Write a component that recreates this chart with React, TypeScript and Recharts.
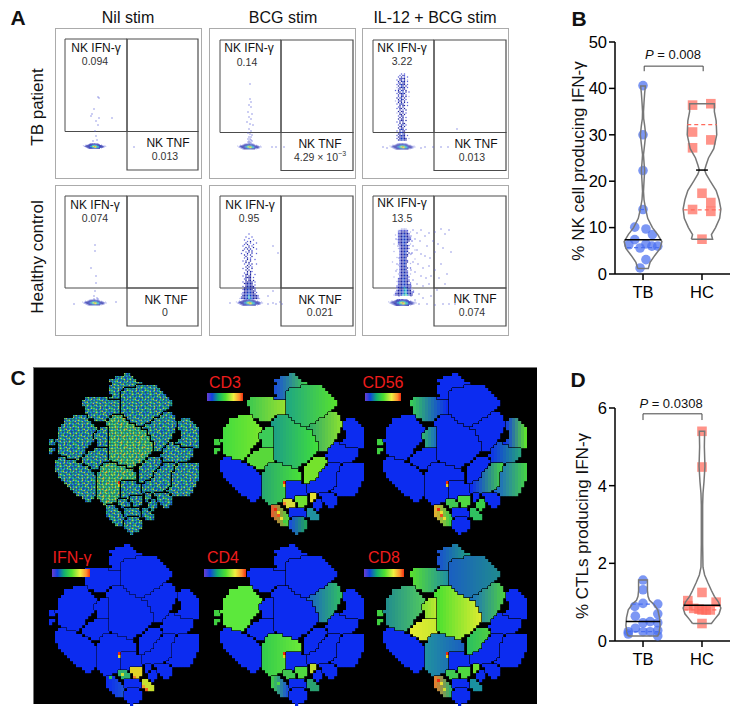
import React from 'react';
import { ScatterChart, Scatter, XAxis, YAxis, ReferenceArea } from 'recharts';

const FONT = '"Liberation Sans", Arial, sans-serif';

// ---------- panel A: flow cytometry ----------
const LEVEL_COLORS = ['', '#b4b8ec', '#5a60d8', '#1c22a0', '#1238c4', '#12a0c0', '#30d070', '#e8e020', '#ee2a10'];

const blobRows = [
  '        12232332221         ',
  '    1 12333344443332 1      ',
  ' 1 123333445566554433321 1  ',
  '  1233334556778765543333211 ',
  '    123334455677655443321   ',
  '      12333344443333 1      ',
];

const il12HcColumn = [
  '       1111       ',
  '     1222222      ',
  '     2233332 1    ',
  '     23334332     ',
  '   1 23344332     ',
  '     233443321    ',
  '     233444332    ',
  '    1233444332    ',
  '     23344433 2   ',
  '     2334433      ',
  '  1  233443  1    ',
  '      2334432     ',
  '      233433      ',
  '     12334332     ',
  '      233432    1 ',
  '  1   233443      ',
  '      23344 3 2   ',
  '      233433 1    ',
  '      233433      ',
  '    1 23343       ',
  '      23343     1 ',
  '      233432      ',
  ' 1    233433      ',
  '      23343  1    ',
  '     123343       ',
  '      23343       ',
  '      233433 2    ',
  '    1 23343       ',
  '      233432      ',
  '      234332      ',
  '     1233432 1    ',
  '      233443      ',
  '  1   2334332     ',
  '     2334432      ',
  '     23344332     ',
  '    123344332     ',
  '     2334433 2    ',
  '     233444332    ',
  '    1233444332    ',
  '    2334454322    ',
  '    12334554321   ',
  '    2334455433 1  ',
  '   1233445543322  ',
  '   233344554332   ',
  '  1233345565433   ',
];

const il12TbColumn = [
  '     2 2    ',
  '    2 32    ',
  '   2 3 2 2  ',
  '    3233    ',
  '  2 33 3 1  ',
  '   3 343 2  ',
  '   23 33    ',
  '  2 3433 2  ',
  '   3 43 3   ',
  '  1 3343 2  ',
  '   23 33    ',
  ' 2 3 43 3   ',
  '   33 4 3 2 ',
  '  2 3343    ',
  '   3 33 2   ',
  '   2 43 3 1 ',
  '  3 33 3    ',
  '   3 43 2   ',
  ' 1 233 3    ',
  '   3 3 3 2  ',
  '  2 343     ',
  '    3 33 2  ',
  '   23 3     ',
  '  2 33 3    ',
  '    3 2 3   ',
  '   3 33     ',
  '  1 3 3 2   ',
  '    33 3    ',
  '   2 33     ',
  '    3 3 2   ',
  '   3 33     ',
  '    233 3   ',
  '  2 3 3     ',
  '    3 33    ',
  '   2 34 2   ',
  '    33 3    ',
  '   3 33     ',
  '    343 2   ',
  '  2 3 33    ',
  '    343     ',
  '   33 43    ',
  '  2 3433 2  ',
  '   33433    ',
  '  2 34433 1 ',
  '   334433   ',
];

const bcgHcColumn = [
  '        2         ',
  '                  ',
  '      2   2       ',
  '        2         ',
  '     2     2      ',
  '       2 3        ',
  '      3  2   2    ',
  '     2 3   2      ',
  '    2   3 2       ',
  '      3 2  3      ',
  '     2 3 3   2    ',
  '    3   3 2       ',
  '      2 3 3       ',
  '   2   3  2  2    ',
  '     3 2 3        ',
  '      3   3       ',
  '     2 3 2        ',
  '       3 2  2     ',
  '    2 3  3        ',
  '      3 3         ',
  '     2  3 3  2    ',
  '       3 2        ',
  '      3 3 2       ',
  '    2  3  3       ',
  '      3 3         ',
  '       3 32       ',
  '     2 3 3        ',
  '      33 3  2     ',
  '    2 3 33        ',
  '      3333 2      ',
  '     23 33        ',
  '      3 33 3      ',
  '    2 33333 2     ',
  '     333433       ',
  '      33433 2     ',
  '    2 334333      ',
  '     33443332     ',
  '    2334433 2     ',
  '     33344333     ',
  '    23344433 2    ',
  '   1233444333     ',
  '    33445443332   ',
  '   233445443332   ',
  '  12334455433321  ',
];

const nilTbEvents = [[42, 68], [43, 69], [38, 80], [36, 85], [43, 89], [56, 89], [35, 87], [40, 92], [42, 96], [39, 102], [40, 107], [41, 111], [37, 112], [78, 118]];
const nilHcEvents = [[39, 59], [39, 65], [35, 82], [40, 90], [40, 97], [39, 105], [38, 110], [41, 112], [38, 113], [42, 113], [18, 118], [60, 116]];
const bcgTbEvents = [[40, 55], [40, 70], [41, 73], [39, 76], [41, 78], [38, 83], [42, 85], [39, 88], [41, 90], [37, 93], [40, 95], [43, 96], [39, 100], [41, 102], [38, 104], [40, 105], [42, 106], [39, 108], [41, 108], [38, 110], [40, 110], [41, 111], [39, 112], [42, 112], [40, 113], [38, 113], [41, 114], [39, 114], [62, 118], [66, 118], [74, 118]];
const il12TbEvents = [[94, 100], [20, 118], [24, 119], [62, 118], [70, 118], [78, 118], [85, 118], [58, 119]];
const bcgHcEvents = [[63, 60], [68, 67], [63, 105], [63, 117], [58, 110], [58, 118], [20, 117], [66, 118], [70, 116], [72, 118]];
const il12HcEvents = [
  [33, 53], [35, 60], [36, 72], [34, 78], [33, 85], [34, 100], [36, 110], [32, 118], [50, 44], [54, 47], [58, 44], [62, 50], [48, 50],
  [52, 53], [57, 55], [66, 47], [72, 46], [78, 43], [82, 48], [86, 44], [70, 55], [75, 58], [64, 60], [50, 60], [54, 64], [58, 68],
  [48, 68], [62, 70], [67, 72], [72, 66], [80, 62], [88, 66], [50, 76], [55, 78], [60, 82], [66, 80], [72, 84], [78, 78], [52, 86],
  [48, 84], [58, 90], [63, 92], [68, 90], [76, 92], [84, 88], [50, 94], [54, 98], [48, 100], [60, 100], [66, 98], [74, 104], [82, 98],
  [50, 106], [56, 108], [48, 110], [60, 112], [68, 110], [52, 114], [46, 116], [56, 118], [64, 118], [72, 119], [80, 118], [86, 118], [92, 118],
];

const panelGates = [
  { frameX: 55, frameY: 28, left: 9, right: 142, split: 71, top: 10, mid: 102.5, bottom: 141 },
  { frameX: 209, frameY: 28, left: 10, right: 143, split: 71, top: 11, mid: 103.5, bottom: 141.5 },
  { frameX: 362, frameY: 28, left: 10, right: 143, split: 71, top: 11, mid: 103.5, bottom: 141.5 },
  { frameX: 55, frameY: 185, left: 9, right: 142, split: 71, top: 10, mid: 102, bottom: 140 },
  { frameX: 209, frameY: 185, left: 10, right: 143, split: 71, top: 10, mid: 102, bottom: 140 },
  { frameX: 362, frameY: 185, left: 10, right: 143, split: 71, top: 10, mid: 102, bottom: 140 },
];

const panelEvents = [nilTbEvents, bcgTbEvents, il12TbEvents, nilHcEvents, bcgHcEvents, il12HcEvents];
const panelColumns: any[] = [
  null,
  null,
  { rows: il12TbColumn, x: 31, y: 45 },
  null,
  { rows: bcgHcColumn, x: 27, y: 48 },
  { rows: il12HcColumn, x: 28, y: 43 },
];
const panelBlobs = [[39, 117.5, 0.9], [40, 118, 0.95], [40, 118, 1], [39, 117, 0.95], [40, 117, 1.05], [40, 117, 1.1]];

const ifnValues = ['0.094', '0.14', '3.22', '0.074', '0.95', '13.5'];
const tnfValues = ['0.013', '', '0.013', '0', '0.021', '0.074'];
const ifnLabelAt = [[96, 48, 95, 61], [249, 48, 247, 62], [402, 48, 402, 61], [95, 205, 95, 218], [250, 205, 249, 218], [402, 203, 402, 218]];
const tnfLabelAt = [[168, 143, 165, 156], [320, 144, 320, 157], [476, 144, 472, 157], [166, 300, 165, 312], [320, 300, 320, 312], [475, 299, 472, 312]];

const columnTitles = ['Nil stim', 'BCG stim', 'IL-12 + BCG stim'];
const rowTitles = ['TB patient', 'Healthy control'];

const parseRows = (rows: string[], x0: number, y0: number, step: number, size: number) => {
  const out: any[] = [];
  rows.forEach((row, r) => {
    row.split('').forEach((ch, c) => {
      if (ch !== ' ') out.push({ x: x0 + c * step, y: y0 + r * step, level: Number(ch), size });
    });
  });
  return out;
};

const FlowCell = (p: any) => {
  const s = p.payload.size;
  return <rect x={p.cx - s / 2} y={p.cy - s / 2} width={s} height={s} fill={LEVEL_COLORS[p.payload.level]} />;
};

const FlowPanel = ({ index }: { index: number }) => {
  const g = panelGates[index];
  const col = panelColumns[index];
  const [bx, by, bs] = panelBlobs[index];
  const events = panelEvents[index].map(([x, y]) => ({ x, y, level: 2, size: 1.1 }));
  const cells = [
    ...events,
    ...(col ? parseRows(col.rows, col.x, col.y, 1.5, 1.25) : []),
    ...parseRows(blobRows, bx - 14 * bs, by - 3 * bs, bs, bs),
  ];
  const stroke = '#4c4c4c';
  return (
    <div style={{ position: 'absolute', left: g.frameX, top: g.frameY, width: 147, height: 151, border: '1px solid #ababab', boxSizing: 'border-box' }}>
      <ScatterChart width={145} height={149} margin={{ top: 0, right: 0, bottom: 0, left: 0 }}>
        <XAxis type="number" dataKey="x" domain={[0, 145]} hide />
        <YAxis type="number" dataKey="y" domain={[0, 149]} reversed hide />
        <Scatter data={cells} shape={FlowCell} isAnimationActive={false} />
        <ReferenceArea x1={g.left} x2={g.split} y1={g.top} y2={g.mid} fill="none" stroke={stroke} strokeWidth={1} ifOverflow="visible" />
        <ReferenceArea x1={g.split} x2={g.right} y1={g.top} y2={g.mid} fill="none" stroke={stroke} strokeWidth={1.2} ifOverflow="visible" />
        <ReferenceArea x1={g.split} x2={g.right} y1={g.mid} y2={g.bottom} fill="none" stroke={stroke} strokeWidth={1.2} ifOverflow="visible" />
      </ScatterChart>
    </div>
  );
};

// ---------- panel C: tSNE maps ----------
const BLUE = '#0c2cf0';
const tsneRows = [
  '',
  'a28-29',
  'a25-30',
  'a23-31',
  'a24-33',
  'a23-31 b32-38',
  'a23-27 b28-39',
  'a23-26 b27-40',
  'a24-26 b27-41',
  'c15-22 a23-26 b27-42',
  'c14-26 b27-43',
  'c14-26 b27-43',
  'c15-26 b27-42',
  'c15-26 b27-41',
  'c15-26 b27-40 h41-43',
  'd11-15 c16-22 e24-27 b28-39 h40-44',
  'd8-15 c18-21 e23-28 b29-37 h38-44 l47-49',
  'd8-16 e22-29 b30-36 h37-45 l46-50',
  'd7-17 e22-31 b32-34 h35-45 l46-51',
  'd6-18 f20-22 e23-33 h34-44 l46-52',
  'd6-18 f19-22 e23-35 h36-44 l47-52',
  'd6-17 f18-22 e23-35 h36-43 l47-52',
  'd6-17 f18-22 e23-36 h37-43 l47-52',
  'x3-4 d5-17 f19-22 e23-36 h37-42 l46-52',
  'x3-4 d6-16 f19-22 e23-37 h38-42 m43-44 l45-52',
  'd6-15 f19-22 e23-37 h38-41 m42-46 l47-52',
  'x3-4 d6-14 g18-22 e23-37 h38-40 m41-50',
  'x3 d6-14 g16-22 e23-36 m41-50',
  'd7-13 g15-22 e23-35 m40-50',
  'k6-8 d9-12 g14-22 e23-34 j36-39 m41-49',
  'k5-11 g14-22 e24-33 j35-40 m41-48',
  'k5-13 g15-20 i21-25 e26-31 j34-39 o41-44 n46-52',
  'k5-15 g17-19 i20-28 e29-30 j33-39 o40-44 n45-52',
  'k5-16 i20-30 j33-38 o39-44 n45-52',
  'k6-17 i19-31 j33-37 o38-43 n44-52',
  'k6-18 i19-31 j33-37 o38-43 n44-52',
  'k7-18 i19-31 j33-36 o37-43 n44-52',
  'k8-18 i19-26 p27-31 j33-34 o35-43 n44-51',
  'k9-18 i19-26 p27-33 o34-43 n44-51',
  'k10-18 i19-26 p27-33 o34-42 n43-50',
  'k11-18 i19-26 p27-33 o34-40 n42-50',
  'k12-18 i19-26 p27-33 v35-36 r38-42 n44-49',
  'k14-17 i19-26 p27-29 u30-33 v35-36 r39-43',
  'k15-16 i20-25 w26-28 u30-33 v35 s37-38 r39-43',
  'i21-23 w26-29 u31-33 s36-38 r40-43',
  'z22-24 w27-29 u31-32 s36-38 r41-42',
  'z22-25 t28-32 y34-35 s37',
  'z22-26 t28-33 y34-36',
  'z22-27 t28-33 y34-37',
  'z23-27 B29-32 y35-37',
  'z24-27 B28-33',
  'z25-27 B28-33',
  'B28-33',
  'B29-32',
  'B30',
];

const cd3Fills: any = {
  a: ['#1a50d8', '#40c850'], b: ['#1fa880', '#56e030'], c: ['#3cc850', '#96e030'], d: ['#40dc40', '#78e62c'], e: ['#1c9c88', '#40e03a'],
  f: '#3ccc58', g: '#58d83a', h: ['#2aa868', '#8ce230'], i: ['#28a870', '#48e038'], j: '#74e22c', u: '#70e030', v: '#e4e030',
  w: '#d8dc38', y: '#2090a0', z: ['#e06030', '#50d040'], B: ['#1a50d8', '#20a060'], x: '#40d040',
};
const cd56Fills: any = {
  c: ['#38cc58', '#0c2cf0'], f: ['#30b070', '#1a70c0'], l: ['#0c2cf0', '#5ce030'], m: ['#0c2cf0', '#24a080'], n: ['#1a60d0', '#44d048'],
  o: ['#0c2cf0', '#44d048'], s: '#38d048', u: '#50d840', w: '#40c850', z: ['#e0b030', '#38cc48'], y: '#30c060', x: '#40d040',
};
const ifnFills: any = { u: '#e0d428', y: '#c8e030', z: ['#0c2cf0', '#1a50d8'], w: '#30b070' };
const cd4Fills: any = {
  d: '#5ce83c', i: ['#34cc4c', '#68e838'], h: ['#1a60c8', '#30c060'], u: '#50d840', v: '#c0dc30',
  w: '#40c850', z: ['#40c850', '#1a50d8'], y: '#2aa070', x: '#40d040',
};
const cd8Fills: any = {
  a: ['#1850d0', '#20a080'], b: ['#1a60c0', '#1f8a90'], c: ['#58e030', '#2090a0'], d: ['#1f8a90', '#50c860'], e: ['#44e030', '#dcec30'],
  f: ['#88e030', '#b8e830'], g: ['#e4ec30', '#c8e830'], h: ['#1a70c0', '#50d040'], i: ['#2090a0', '#1a60c0'], j: ['#2cc060', '#50d040'],
  u: '#50d840', v: '#70e030', w: '#40c850', z: ['#e08030', '#30b070'], y: '#1a90a0', x: '#40d040',
};
const speckleFills: any = { e: 'url(#speckleWarm)', i: 'url(#speckleWarm)', default: 'url(#speckleCool)' };

const commonHotspots = [[26, 37, '#ee2a10'], [26, 38, '#e8d020']];
const cd3Hotspots = [[23, 46, '#ee2a10'], [24, 47, '#f0e030'], [24, 48, '#f05020'], [25, 49, '#f0e030'], [26, 50, '#40d040'], [26, 44, '#f08030'], [30, 44, '#f0e030']];
const cd56Hotspots = [[23, 46, '#ee2a10'], [24, 47, '#f0e030'], [24, 48, '#f05020'], [25, 49, '#f0e030'], [30, 44, '#e0e030']];
const ifnHotspots = [[30, 44, '#ee2a10'], [31, 45, '#f08030'], [34, 48, '#f0a030'], [35, 49, '#ee6020'], [23, 45, '#30c060'], [27, 44, '#d0e030']];
const cd4Hotspots = [[30, 44, '#e0e030'], [24, 47, '#50d840']];
const cd8Hotspots = [[23, 46, '#ee2a10'], [24, 47, '#e8e030'], [25, 49, '#d0e030']];

const speckleCoolTile = ['btgcybtgbcgt', 'gcbtybgcbtyg', 'tybgcbtgycbt', 'cgtbgybcgtbg', 'bygctbgybctb', 'gtcbgtyctbgc', 'ybtgcbtgybcg', 'tcgybtcbgtyb', 'gbtcgybtcgbt', 'cygtbcgybtgc', 'btcgybtcgtby', 'gybtcgbygctb'];
const speckleWarmTile = ['gygtgyrgtgyg', 'tgygcgytgygt', 'ygrgtygcgtyg', 'gcgybgtgyrgc', 'yggtgycgytgy', 'gtygcgygtgcg', 'rgytgtygcgyt', 'gcgygrgtygyg', 'tygcgtgyrgcg', 'gygtycgytgty', 'ygcgrgtgygcg', 'gtgyctygcgyt'];
const SPECKLE_COLORS: any = { b: '#1d55d8', t: '#18a0a0', g: '#38c878', y: '#a8d850', c: '#2090d0', r: '#e0a040' };

const mapLayouts = [
  { x: 40, y: 370, fills: speckleFills, hot: [], crack: 2.6 },
  { x: 205, y: 370, fills: cd3Fills, hot: cd3Hotspots, crack: 1.3 },
  { x: 368, y: 370, fills: cd56Fills, hot: cd56Hotspots, crack: 1.3 },
  { x: 40, y: 541, fills: ifnFills, hot: ifnHotspots, crack: 1 },
  { x: 205, y: 541, fills: cd4Fills, hot: cd4Hotspots, crack: 1.3 },
  { x: 368, y: 541, fills: cd8Fills, hot: cd8Hotspots, crack: 1.3 },
];

const colorbars = [
  { label: 'CD3', x: 207, w: 36, y: 393, lx: 225, ly: 383 },
  { label: 'CD56', x: 365, w: 36, y: 393, lx: 383, ly: 383 },
  { label: 'IFN-γ', x: 52, w: 38, y: 569, lx: 72, ly: 558 },
  { label: 'CD4', x: 204, w: 42, y: 569, lx: 223, ly: 558 },
  { label: 'CD8', x: 364, w: 40, y: 569, lx: 384, ly: 558 },
];

const tsneGrid = new Map<string, string>();
const regionBounds: any = {};
tsneRows.forEach((row, r) => {
  row.split(' ').filter(Boolean).forEach((run) => {
    const id = run[0];
    const [from, to] = run.slice(1).split('-').map(Number);
    for (let c = from; c <= (to ?? from); c++) tsneGrid.set(`${c},${r}`, id);
    const b = regionBounds[id] || (regionBounds[id] = { min: from, max: to ?? from });
    b.min = Math.min(b.min, from);
    b.max = Math.max(b.max, to ?? from);
  });
});

const hex = (s: string) => [1, 3, 5].map((i) => parseInt(s.slice(i, i + 2), 16));
const mix = (a: string, b: string, t: number) => {
  const [ca, cb] = [hex(a), hex(b)];
  return `rgb(${ca.map((v, i) => Math.round(v + (cb[i] - v) * t)).join(',')})`;
};

const tsneCells = (fills: any, hot: any[]) => {
  const hotMap = new Map<string, string>();
  [...commonHotspots, ...hot].forEach(([c, r, color]: any) => hotMap.set(`${c},${r}`, color));
  const out: any[] = [];
  tsneGrid.forEach((id, key) => {
    const [c, r] = key.split(',').map(Number);
    const spec = fills[id] ?? fills.default ?? BLUE;
    const b = regionBounds[id];
    let fill = Array.isArray(spec) ? mix(spec[0], spec[1], (c - b.min) / Math.max(1, b.max - b.min)) : spec;
    if (hotMap.has(key)) fill = hotMap.get(key);
    const right = tsneGrid.get(`${c + 1},${r}`);
    const down = tsneGrid.get(`${c},${r + 1}`);
    out.push({ x: c + 0.5, y: r + 0.5, fill, crackR: !!right && right !== id, crackB: !!down && down !== id });
  });
  return out;
};

const TsneCell = (p: any) => {
  const { fill, crackR, crackB, crack } = p.payload;
  const s = 3;
  return (
    <g>
      <rect x={p.cx - s / 2} y={p.cy - s / 2} width={s + 0.2} height={s + 0.2} fill={fill} />
      {crackR && <line x1={p.cx + s / 2} y1={p.cy - s / 2} x2={p.cx + s / 2} y2={p.cy + s / 2} stroke="#000" strokeWidth={crack} />}
      {crackB && <line x1={p.cx - s / 2} y1={p.cy + s / 2} x2={p.cx + s / 2} y2={p.cy + s / 2} stroke="#000" strokeWidth={crack} />}
    </g>
  );
};

const SpecklePattern = ({ id, tile }: { id: string; tile: string[] }) => (
  <pattern id={id} width={18} height={18} patternUnits="userSpaceOnUse">
    {tile.flatMap((row, r) =>
      row.split('').map((ch, c) => <rect key={`${r}-${c}`} x={c * 1.5} y={r * 1.5} width={1.5} height={1.5} fill={SPECKLE_COLORS[ch]} />)
    )}
  </pattern>
);

const TsneMap = ({ index }: { index: number }) => {
  const m = mapLayouts[index];
  const cells = tsneCells(m.fills, m.hot).map((d) => ({ ...d, crack: m.crack }));
  return (
    <div style={{ position: 'absolute', left: m.x, top: m.y, filter: 'blur(0.4px)' }}>
      <ScatterChart width={159} height={165} margin={{ top: 0, right: 0, bottom: 0, left: 0 }}>
        <XAxis type="number" dataKey="x" domain={[0, 53]} hide />
        <YAxis type="number" dataKey="y" domain={[0, 55]} reversed hide />
        <Scatter data={cells} shape={TsneCell} isAnimationActive={false} />
      </ScatterChart>
    </div>
  );
};

// ---------- panels B and D: violins ----------
const tbNkValues = [40.6, 30, 22.3, 13.9, 10.1, 9.7, 8.5, 7.4, 6.3, 6.5, 6, 6, 5.6, 3.1, 1.3];
const tbNkOffsets = [0, 0, 0, 0, -0.14, 0.05, 0.16, -0.14, -0.24, 0.05, 0.15, 0.25, -0.05, 0.05, -0.05];
const hcNkValues = [36.4, 36.7, 30.6, 28.9, 27.2, 17.4, 15.4, 13.5, 13.9, 7.5];
const hcNkOffsets = [-0.16, 0.15, -0.16, 0.15, -0.16, 0, 0.15, 0.15, -0.16, 0];

const tbCtlValues = [1.57, 1.32, 0.97, 0.95, 0.89, 0.7, 0.64, 0.47, 0.5, 0.47, 0.33, 0.24, 0.24, 0.24, 0.18, 0.13, 0.27];
const tbCtlOffsets = [0, 0, 0, 0.25, -0.14, 0.25, -0.13, 0, 0.12, 0.25, -0.13, 0, 0.12, -0.25, -0.25, 0.25, 0.25];
const hcCtlValues = [5.4, 4.48, 1.25, 1.04, 1, 0.91, 0.84, 0.8, 0.8, 0.45, 0.82, 0.8];
const hcCtlOffsets = [0, 0, 0, -0.24, 0.24, -0.24, -0.14, 0, 0.14, 0, -0.05, 0.07];

const tbNkViolinY = [1.2, 2.5, 4, 5.5, 7, 8.5, 10, 12, 14, 16, 17.8, 20, 22.3, 24, 25.7, 28, 30, 32, 33.5, 35, 37, 39, 40.5];
const tbNkViolinW = [0.09, 0.12, 0.2, 0.29, 0.32, 0.25, 0.16, 0.08, 0.045, 0.017, 0.008, 0.017, 0.028, 0.017, 0.008, 0.028, 0.045, 0.028, 0.011, 0.008, 0.017, 0.028, 0.04];
const hcNkViolinY = [7.5, 8.5, 10, 12, 14, 16, 18, 20, 21.5, 22.4, 23.5, 25, 27, 30, 33, 35, 36.7];
const hcNkViolinW = [0.18, 0.16, 0.23, 0.3, 0.32, 0.29, 0.24, 0.14, 0.07, 0.045, 0.07, 0.11, 0.2, 0.25, 0.24, 0.21, 0.21];
const tbCtlViolinY = [0.13, 0.2, 0.4, 0.6, 0.8, 0.95, 1.05, 1.15, 1.3, 1.57];
const tbCtlViolinW = [0.25, 0.27, 0.29, 0.28, 0.25, 0.18, 0.11, 0.085, 0.075, 0.075];
const hcCtlViolinY = [0.45, 0.55, 0.7, 0.85, 1, 1.15, 1.3, 1.5, 1.7, 1.9, 2.5, 3.5, 3.8, 4.1, 4.5, 5, 5.4];
const hcCtlViolinW = [0.16, 0.21, 0.29, 0.32, 0.28, 0.21, 0.16, 0.1, 0.045, 0.017, 0.011, 0.011, 0.017, 0.034, 0.05, 0.04, 0.045];

const BLUE_DOT = '#4a6ff0';
const RED_DOT = '#ff6a5c';

const outline = (center: number, ys: number[], ws: number[]) => [
  ...ys.map((y, i) => ({ x: center - ws[i], y })),
  ...ys.map((y, i) => ({ x: center + ws[i], y })).reverse(),
  { x: center - ws[0], y: ys[0] },
];
const hLine = (center: number, w: number, y: number) => [{ x: center - w, y }, { x: center + w, y }];
const hide = () => <g />;

const CircleDot = (p: any) => <circle cx={p.cx} cy={p.cy} r={4.8} fill={BLUE_DOT} fillOpacity={0.72} />;
const SquareDot = (p: any) => <rect x={p.cx - 4.8} y={p.cy - 4.8} width={9.6} height={9.6} fill={RED_DOT} fillOpacity={0.72} />;

const lineSeries = (key: string, data: any[], stroke: string, width: number, dash?: string) => (
  <Scatter
    key={key}
    data={data}
    shape={hide}
    line={{ stroke, strokeWidth: width, strokeDasharray: dash }}
    lineType="joint"
    isAnimationActive={false}
  />
);

const ViolinPanel = ({ top, marginTop, plotHeight, domain, ticks, tb, hc, tbLines, hcLines, bracket }: any) => {
  const toPoints = (center: number, vals: number[], offs: number[]) => vals.map((y, i) => ({ x: center + offs[i], y }));
  return (
    <div style={{ position: 'absolute', left: 530, top }}>
      <ScatterChart width={222} height={marginTop + plotHeight + 36} margin={{ top: marginTop, right: 22, bottom: 0, left: 0 }}>
        <XAxis
          type="number"
          dataKey="x"
          domain={[0.525, 2.475]}
          ticks={[1, 2]}
          tickFormatter={(v: number) => (v === 1 ? 'TB' : 'HC')}
          height={36}
          tickSize={6}
          tickMargin={6}
          axisLine={{ stroke: '#000', strokeWidth: 1.5 }}
          tickLine={{ stroke: '#000', strokeWidth: 1.5 }}
          tick={{ fill: '#000', fontSize: 16.5, fontFamily: FONT }}
        />
        <YAxis
          type="number"
          dataKey="y"
          domain={domain}
          ticks={ticks}
          width={85}
          tickSize={6}
          tickMargin={2}
          axisLine={{ stroke: '#000', strokeWidth: 1.5 }}
          tickLine={{ stroke: '#000', strokeWidth: 1.5 }}
          tick={{ fill: '#000', fontSize: 16.5, fontFamily: FONT }}
        />
        <Scatter data={toPoints(1, tb.values, tb.offsets)} shape={CircleDot} isAnimationActive={false} />
        <Scatter data={toPoints(2, hc.values, hc.offsets)} shape={SquareDot} isAnimationActive={false} />
        {lineSeries('v1', outline(1, tb.violinY, tb.violinW), '#777', 1.5)}
        {lineSeries('v2', outline(2, hc.violinY, hc.violinW), '#777', 1.5)}
        {tbLines.quartiles.map(([w, y]: number[], i: number) => lineSeries(`tq${i}`, hLine(1, w, y), BLUE_DOT, 1.2, '4 3'))}
        {hcLines.quartiles.map(([w, y]: number[], i: number) => lineSeries(`hq${i}`, hLine(2, w, y), RED_DOT, 1.2, '4 3'))}
        {lineSeries('m1', hLine(1, tbLines.median[0], tbLines.median[1]), '#000', 1.5)}
        {lineSeries('m2', hLine(2, hcLines.median[0], hcLines.median[1]), '#000', 1.5)}
        {lineSeries('br', bracket, '#444', 1)}
      </ScatterChart>
    </div>
  );
};

const Txt = ({ x, y, size, rotate, children, color, bold }: any) => (
  <div
    style={{
      position: 'absolute',
      left: x,
      top: y,
      transform: `translate(-50%, -50%)${rotate ? ` rotate(${rotate}deg)` : ''}`,
      fontFamily: FONT,
      fontSize: size,
      fontWeight: bold ? 700 : 400,
      color: color || '#111',
      whiteSpace: 'nowrap',
      lineHeight: 1,
    }}
  >
    {children}
  </div>
);

const RAINBOW = 'linear-gradient(90deg,#6a3fd0 0%,#1040e0 14%,#10b070 32%,#50e030 52%,#f0f040 74%,#ff9030 90%,#f03010 100%)';

export default function App() {
  return (
    <div style={{ position: 'absolute', left: 0, top: 0, width: 752, height: 709, background: '#fff', overflow: 'hidden' }}>
      {panelGates.map((_, i) => <FlowPanel key={i} index={i} />)}
      {panelGates.map((_, i) => (
        <React.Fragment key={i}>
          <Txt x={ifnLabelAt[i][0]} y={ifnLabelAt[i][1]} size={12}>NK IFN-γ</Txt>
          <Txt x={ifnLabelAt[i][2]} y={ifnLabelAt[i][3]} size={10.5} color="#333">{ifnValues[i]}</Txt>
          <Txt x={tnfLabelAt[i][0]} y={tnfLabelAt[i][1]} size={12}>NK TNF</Txt>
          <Txt x={tnfLabelAt[i][2]} y={tnfLabelAt[i][3]} size={10.5} color="#333">
            {i === 1 ? <>4.29 × 10<sup style={{ fontSize: 7, lineHeight: 0 }}>−3</sup></> : tnfValues[i]}
          </Txt>
        </React.Fragment>
      ))}
      <Txt x={128} y={18} size={16}>{columnTitles[0]}</Txt>
      <Txt x={283} y={18} size={16}>{columnTitles[1]}</Txt>
      <Txt x={435} y={18} size={16}>{columnTitles[2]}</Txt>
      <Txt x={37} y={107} size={17} rotate={-90}>{rowTitles[0]}</Txt>
      <Txt x={37} y={257} size={17} rotate={-90}>{rowTitles[1]}</Txt>
      <Txt x={18} y={17} size={21} bold>A</Txt>
      <Txt x={579} y={18} size={21} bold>B</Txt>
      <Txt x={18} y={377} size={21} bold>C</Txt>
      <Txt x={578} y={379} size={21} bold>D</Txt>

      <div style={{ position: 'absolute', left: 33, top: 367, width: 504, height: 337, background: '#000', borderLeft: '1px solid #777', borderTop: '1px solid #777', boxSizing: 'border-box' }} />
      <svg width={0} height={0} style={{ position: 'absolute' }}>
        <defs>
          <SpecklePattern id="speckleCool" tile={speckleCoolTile} />
          <SpecklePattern id="speckleWarm" tile={speckleWarmTile} />
        </defs>
      </svg>
      {mapLayouts.map((_, i) => <TsneMap key={i} index={i} />)}
      {colorbars.map((b) => (
        <React.Fragment key={b.label}>
          <div style={{ position: 'absolute', left: b.x, top: b.y, width: b.w, height: 8, background: RAINBOW }} />
          <Txt x={b.lx} y={b.ly} size={16} color="#ee1c1c">{b.label}</Txt>
        </React.Fragment>
      ))}

      <ViolinPanel
        top={0}
        marginTop={42}
        plotHeight={232}
        domain={[0, 50]}
        ticks={[0, 10, 20, 30, 40, 50]}
        tb={{ values: tbNkValues, offsets: tbNkOffsets, violinY: tbNkViolinY, violinW: tbNkViolinW }}
        hc={{ values: hcNkValues, offsets: hcNkOffsets, violinY: hcNkViolinY, violinW: hcNkViolinW }}
        tbLines={{ median: [0.31, 7.4], quartiles: [[0.27, 5.7], [0.05, 13.9]] }}
        hcLines={{ median: [0.1, 22.4], quartiles: [[0.25, 32.2], [0.31, 13.8]] }}
        bracket={[{ x: 1.02, y: 43.7 }, { x: 1.02, y: 44.8 }, { x: 2.02, y: 44.8 }, { x: 2.02, y: 43.7 }]}
      />
      <Txt x={673} y={54} size={13}><i>P</i> = 0.008</Txt>
      <Txt x={578} y={161} size={17} rotate={-90}>% NK cell producing IFN-γ</Txt>

      <ViolinPanel
        top={380}
        marginTop={28}
        plotHeight={233}
        domain={[0, 6]}
        ticks={[0, 2, 4, 6]}
        tb={{ values: tbCtlValues, offsets: tbCtlOffsets, violinY: tbCtlViolinY, violinW: tbCtlViolinW }}
        hc={{ values: hcCtlValues, offsets: hcCtlOffsets, violinY: hcCtlViolinY, violinW: hcCtlViolinW }}
        tbLines={{ median: [0.29, 0.5], quartiles: [[0.19, 0.95], [0.27, 0.24]] }}
        hcLines={{ median: [0.31, 0.92], quartiles: [[0.3, 0.8]] }}
        bracket={[{ x: 1, y: 5.69 }, { x: 1, y: 5.85 }, { x: 2, y: 5.85 }, { x: 2, y: 5.69 }]}
      />
      <Txt x={671} y={403} size={13}><i>P</i> = 0.0308</Txt>
      <Txt x={582} y={526} size={17} rotate={-90}>% CTLs producing IFN-γ</Txt>
    </div>
  );
}
